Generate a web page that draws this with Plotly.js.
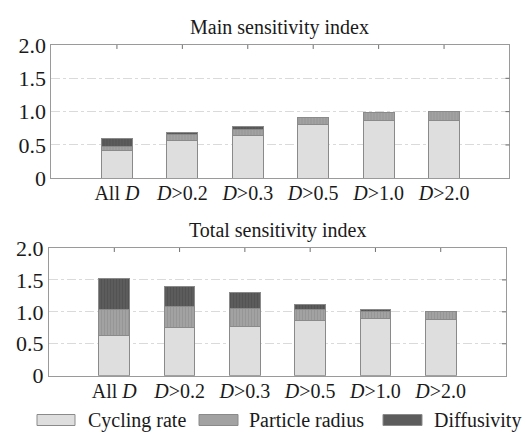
<!DOCTYPE html>
<html>
<head>
<meta charset="utf-8">
<script src="https://cdn.plot.ly/plotly-3.0.1.min.js"></script>
<style>
  html, body { margin: 0; padding: 0; background: #fff; }
  #chart { width: 526px; height: 435px; }
</style>
</head>
<body>
<div id="chart"></div>
<script>
// Diffusivity thresholds used to filter the samples
const categories = ['All D', 'D>0.2', 'D>0.3', 'D>0.5', 'D>1.0', 'D>2.0'];
const tickLabels = ['All <i>D</i>', '<i>D</i>&gt;0.2', '<i>D</i>&gt;0.3', '<i>D</i>&gt;0.5', '<i>D</i>&gt;1.0', '<i>D</i>&gt;2.0'];
const seriesNames = ['Cycling rate', 'Particle radius', 'Diffusivity'];
const yTickValues = [0, 0.5, 1, 1.5, 2.0];
const yTickLabels = ['0', '0.5', '1.0', '1.5', '2.0'];

// Main (first-order) sensitivity indices
const mainCycling   = [0.42, 0.57, 0.64, 0.80, 0.86, 0.87];
const mainRadius    = [0.06, 0.08, 0.09, 0.11, 0.12, 0.13];
const mainDiffusion = [0.12, 0.04, 0.04, 0.00, 0.00, 0.00];

// Total sensitivity indices
const totalCycling   = [0.63, 0.75, 0.77, 0.87, 0.89, 0.88];
const totalRadius    = [0.41, 0.33, 0.29, 0.17, 0.11, 0.13];
const totalDiffusion = [0.48, 0.32, 0.24, 0.08, 0.03, 0.00];

const fills = ['#dedede', '#a2a2a2', '#5c5c5c'];
const stripes = ['#dedede', '#929292', '#505050'];
const serif = 'Liberation Serif, Times New Roman, serif';
const textColor = '#1a1a1a';

function barTrace(name, values, i, xa, ya) {
  return {
    type: 'bar',
    name: name,
    x: categories,
    y: values,
    xaxis: xa,
    yaxis: ya,
    width: 0.47,
    showlegend: false,
    marker: {
      color: fills[i],
      line: { color: '#8a8a8a', width: 1 },
      pattern: i === 0 ? { shape: '' } : { shape: '|', fgcolor: stripes[i], bgcolor: fills[i], size: 3, solidity: 0.25 }
    },
    hoverinfo: 'skip'
  };
}

const traces = [
  barTrace(seriesNames[0], mainCycling, 0, 'x', 'y'),
  barTrace(seriesNames[1], mainRadius, 1, 'x', 'y'),
  barTrace(seriesNames[2], mainDiffusion, 2, 'x', 'y'),
  barTrace(seriesNames[0], totalCycling, 0, 'x2', 'y2'),
  barTrace(seriesNames[1], totalRadius, 1, 'x2', 'y2'),
  barTrace(seriesNames[2], totalDiffusion, 2, 'x2', 'y2')
];

const frameColor = '#9a9a9a';
const tickFont = { family: serif, size: 20, color: textColor };
const yTickFont = { family: serif, size: 22, color: textColor };

function catAxis(domain, anchor) {
  return {
    domain: domain, anchor: anchor, type: 'category',
    range: [-1, 6],
    tickvals: categories, ticktext: tickLabels,
    ticks: '', showgrid: false,
    showline: true, linecolor: frameColor, linewidth: 1, mirror: true,
    tickfont: tickFont, ticklabelstandoff: -3,
    zeroline: false, fixedrange: true
  };
}
function valAxis(domain, anchor) {
  return {
    domain: domain, anchor: anchor,
    range: [0, 2],
    tickvals: yTickValues, ticktext: yTickLabels,
    ticks: '',
    showgrid: true, gridcolor: '#dadada', griddash: 'dashdot', gridwidth: 1,
    showline: true, linecolor: frameColor, linewidth: 1, mirror: true,
    tickfont: yTickFont, ticklabelstandoff: 0,
    zeroline: false, fixedrange: true
  };
}

const topX = [0.0979, 0.9686], topY = [0.5901, 0.8966];
const botX = [0.0932, 0.9620], botY = [0.1363, 0.4299];

// Short inward ticks on the top and right frame edges only
function frameTicks(xa, ya, xDom, yDom) {
  const hLen = 4 / ((yDom[1] - yDom[0]) * 435);
  const wLen = 4 / ((xDom[1] - xDom[0]) * 526);
  const tickLine = { color: '#6f6f6f', width: 1 };
  const top = categories.map((c, i) => ({
    type: 'line', layer: 'above', xref: xa, yref: ya + ' domain',
    x0: i, x1: i, y0: 1, y1: 1 - hLen, line: tickLine
  }));
  const right = yTickValues.slice(1, -1).map(v => ({
    type: 'line', layer: 'above', xref: xa + ' domain', yref: ya,
    x0: 1, x1: 1 - wLen, y0: v, y1: v, line: tickLine
  }));
  return top.concat(right);
}

// Legend drawn as wide swatches with labels beneath the lower panel
const legendY = 1 - 420 / 435;
const swatchX = [[37, 75], [199, 238], [383, 422]];
const labelX = [86, 247, 432];
const swatchH = 11 / 435;
const legendShapes = seriesNames.map((n, i) => ({
  type: 'rect', xref: 'paper', yref: 'paper',
  x0: swatchX[i][0] / 526, x1: swatchX[i][1] / 526,
  y0: legendY - swatchH / 2, y1: legendY + swatchH / 2,
  fillcolor: fills[i], line: { color: '#8a8a8a', width: 1 }
}));
const legendLabels = seriesNames.map((n, i) => ({
  text: n, xref: 'paper', yref: 'paper', x: labelX[i] / 526, y: legendY,
  xanchor: 'left', yanchor: 'middle', showarrow: false,
  font: { family: serif, size: 20, color: textColor }
}));

const layout = {
  width: 526, height: 435,
  margin: { l: 0, r: 0, t: 0, b: 0 },
  paper_bgcolor: '#ffffff', plot_bgcolor: '#ffffff',
  barmode: 'stack',
  font: { family: serif, color: textColor },
  showlegend: false,
  xaxis: catAxis(topX, 'y'),
  yaxis: valAxis(topY, 'x'),
  xaxis2: catAxis(botX, 'y2'),
  yaxis2: valAxis(botY, 'x2'),
  shapes: legendShapes
    .concat(frameTicks('x', 'y', topX, topY))
    .concat(frameTicks('x2', 'y2', botX, botY)),
  annotations: [
    { text: 'Main sensitivity index', xref: 'paper', yref: 'paper', x: 279 / 526, y: 1 - 27 / 435,
      showarrow: false, font: { family: serif, size: 20, color: textColor }, xanchor: 'center', yanchor: 'middle' },
    { text: 'Total sensitivity index', xref: 'paper', yref: 'paper', x: 277 / 526, y: 1 - 230 / 435,
      showarrow: false, font: { family: serif, size: 20, color: textColor }, xanchor: 'center', yanchor: 'middle' }
  ].concat(legendLabels)
};

Plotly.newPlot('chart', traces, layout, { staticPlot: true, displayModeBar: false });
</script>
</body>
</html>
